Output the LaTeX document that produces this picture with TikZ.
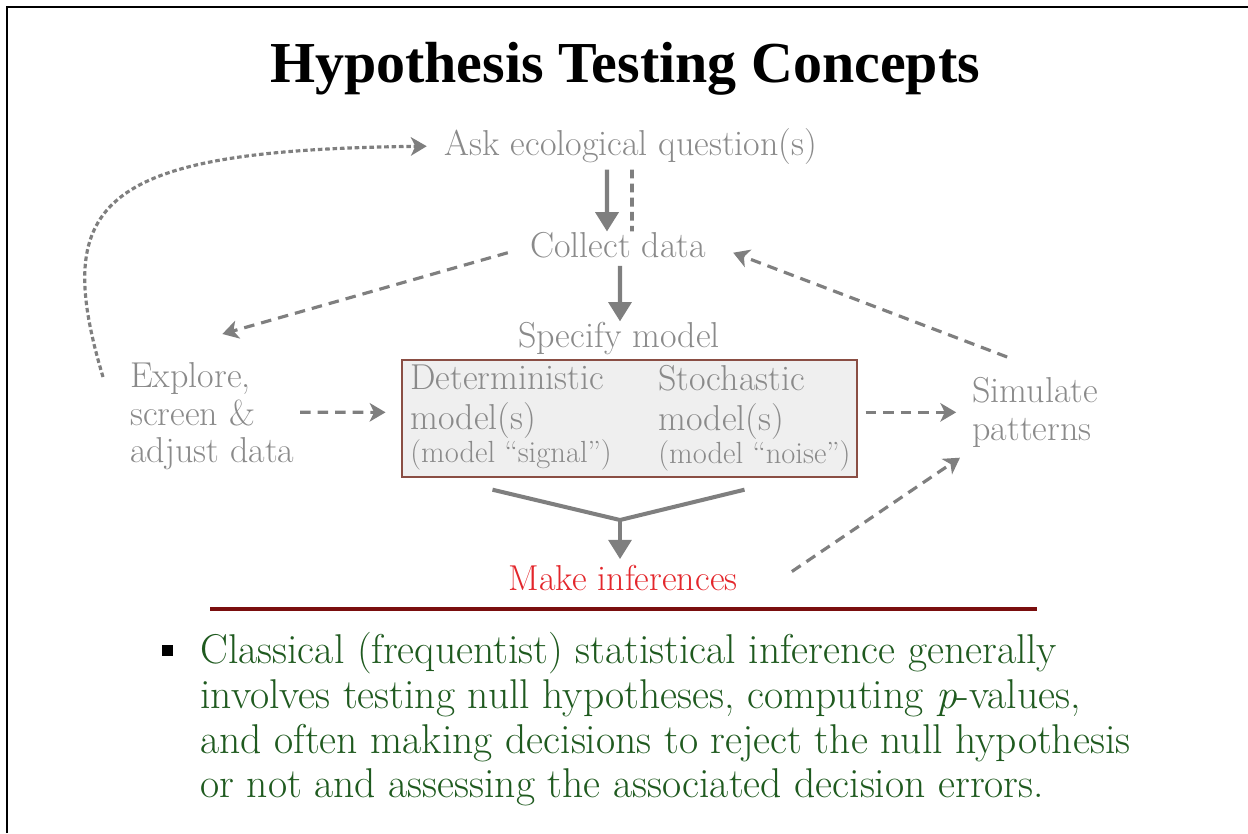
\documentclass[tikz,border=0pt]{standalone}
\usepackage{fontspec}
\newfontfamily\headfont{Liberation Serif}
\usetikzlibrary{arrows.meta}
\definecolor{txtgray}{HTML}{8A8A8A}
\definecolor{arrgray}{HTML}{7F7F7F}
\definecolor{boxfill}{HTML}{EFEFEF}
\definecolor{boxline}{HTML}{8A4E44}
\definecolor{infred}{HTML}{E3262B}
\definecolor{rulered}{HTML}{7A0E0E}
\definecolor{bulgreen}{HTML}{1F5A1F}

\begin{document}
\begin{tikzpicture}[x=0.02cm, y=-0.02cm,
    lbl/.style={text=txtgray, inner sep=0pt, font=\fontsize{20.5}{21.5}\selectfont},
    flow/.style={draw=arrgray, line width=2.3pt, -{Triangle[length=11pt,width=13pt]}},
    link/.style={draw=arrgray, line width=1.8pt, dash pattern=on 6pt off 4pt,
      -{Stealth[length=9pt,width=10.5pt,inset=2.5pt]}},
    back/.style={draw=arrgray, line width=1.8pt, dash pattern=on 2.6pt off 1.6pt,
      -{Stealth[length=9pt,width=10.5pt,inset=2.5pt]}}]
    \useasboundingbox (0,0) rectangle (1248,833);
    \draw[line width=0.7pt] (7,833) -- (7,7) -- (1248,7);

    \node[anchor=base, inner sep=0pt, font=\fontsize{33}{38}\headfont\bfseries] (Title) at (625,82) {Hypothesis Testing Concepts};

    \node[lbl, anchor=base] (Ask) at (631,155) {Ask ecological question(s)};
    \node[lbl, anchor=base] (Collect) at (618,257) {Collect data};
    \node[lbl, anchor=base] (Spec) at (619,347) {Specify model};
    \node[draw=boxline, fill=boxfill, line width=0.8pt, minimum width=9.1cm, minimum height=2.34cm] (Model) at (629.5,418.5) {};
    \node[lbl, anchor=north west, align=left, font=\fontsize{20.5}{22.7}\selectfont] (Det) at (410,365)
      {Deterministic\\model(s)\\[-4pt]{\fontsize{17.4}{18}\selectfont(model “signal”)}};
    \node[lbl, anchor=north west, align=left, font=\fontsize{20.5}{22.7}\selectfont] (Sto) at (658,365)
      {Stochastic\\model(s)\\[-4pt]{\fontsize{17.4}{18}\selectfont(model “noise”)}};
    \node[lbl, anchor=north west, align=left] (Expl) at (130,362) {Explore,\\screen \&\\adjust data};
    \node[lbl, anchor=north west, align=left] (Sim) at (972,377) {Simulate\\patterns};
    \node[lbl, anchor=base, text=infred] (Make) at (623,590) {Make inferences};
    \coordinate (Join) at (620,520);

    \draw[flow, shorten <=3pt] ([xshift=-0.48cm]Ask.south) -- ([xshift=-0.22cm]Collect.north);
    \draw[draw=arrgray, line width=2pt, dash pattern=on 5pt off 3pt, shorten <=3pt]
      ([xshift=0.02cm]Ask.south) -- ([xshift=0.28cm]Collect.north);
    \draw[flow, shorten <=4.5pt] ([xshift=0.04cm]Collect.south) -- ([xshift=0.02cm]Spec.north);
    \draw[link] ([shift={(-22,8)}]Collect.west) -- ([shift={(10,-28)}]Expl.north);
    \draw[link] ([shift={(-28,-20)}]Sim.north) -- ([shift={(27,8)}]Collect.east);
    \draw[link, shorten <=3pt, shorten >=9pt] ([yshift=0.08cm]Expl.east) -- (Model.west |- Sim.west);
    \draw[link, shorten <=4.5pt, shorten >=9pt] (Model.east |- Sim.west) -- (Sim.west);
    \draw[link] ([shift={(54,-6)}]Make.east) -- ([shift={(-12,10)}]Sim.south west);
    \draw[back, shorten >=10pt] ([shift={(-27,15)}]Expl.north west) .. controls (50,200) and (100,150) .. (Ask.west);
    \draw[draw=arrgray, line width=2.3pt] ([shift={(-137,12)}]Model.south) -- (Join) -- ([shift={(115,12)}]Model.south);
    \draw[flow, shorten >=3pt] (Join) -- (Join |- Make.north);

    \draw[rulered, line width=2.3pt] (210,609) -- (1037,609);
    \fill (162,645) rectangle (173,656);
    \node[anchor=north west, inner sep=0pt, align=left, text=bulgreen, font=\fontsize{23.7}{25.5}\selectfont] (Note) at (200,632)
      {Classical (frequentist) statistical inference generally\\
       involves testing null hypotheses, computing \textit{p}-values,\\
       and often making decisions to reject the null hypothesis\\
       or not and assessing the associated decision errors.};
\end{tikzpicture}
\end{document}
